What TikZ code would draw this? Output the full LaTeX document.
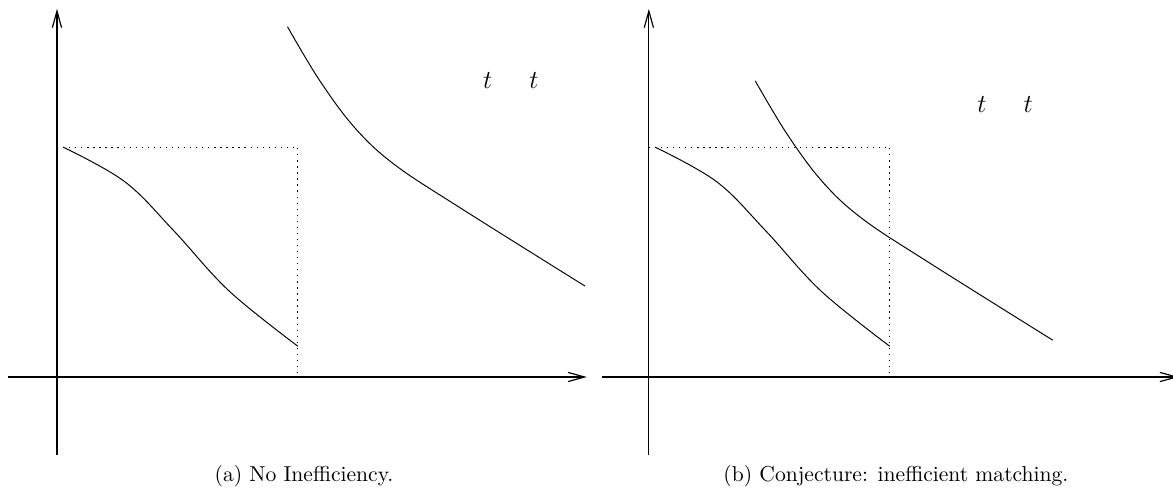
\documentclass[tikz,border=0pt]{standalone}
\usepackage{amsmath}
\usepackage{tikz}
\usetikzlibrary{arrows.meta,positioning,calc}

\begin{document}
\begin{tikzpicture}[
  axis/.style={-{Straight Barb[length=2.7mm,width=1.5mm]},line width=0.55pt},
  curve/.style={line width=0.45pt},
  guide/.style={line width=0.5pt,dash pattern=on 0.6pt off 2.2pt},
  lab/.style={font=\large,inner sep=0pt},
  captext/.style={font=\normalsize,inner sep=0pt},
]
\useasboundingbox (-0.927,-1.969) rectangle (18.158,6.134);
% panel (a)
\coordinate (xlA) at (-0.80,0);
\coordinate (xrA) at (8.62,0);
\coordinate (ybA) at (0,-1.27);
\coordinate (ytA) at (0,5.99);
\draw[axis] (xlA) -- (xrA);
\draw[axis] (ybA) -- (ytA);
\coordinate (topA) at (0,3.74);
\coordinate (cornA) at (3.92,3.74);
\coordinate (footA) at (3.92,0);
\draw[guide] (topA) -- (cornA) -- (footA);
% curves
\draw[curve] plot[smooth,tension=0.6] coordinates {(0.10,3.74) (1.10,3.18)
  (1.90,2.38) (2.80,1.40) (3.92,0.50)};
\draw[curve] plot[smooth,tension=0.6] coordinates {(3.75,5.70) (4.27,4.83)
  (4.85,4.05) (5.50,3.45) (6.58,2.74) (8.59,1.48)};
\node[lab] (t1A) at (7.01,4.83) {$t$};
\node[lab,right=7.5mm of t1A.center,anchor=center] (t2A) {$t$};
\node[captext] (capA) at (4.02,-1.61) {(a) No Inefficiency.};

% panel (b)
\begin{scope}[xshift=9.63cm]
\coordinate (xlB) at (-0.76,0);
\coordinate (xrB) at (8.62,0);
\coordinate (ybB) at (0,-1.27);
\coordinate (ytB) at (0,5.99);
\draw[axis] (xlB) -- (xrB);
\draw[axis] (ybB) -- (ytB);
\coordinate (topB) at (0,3.74);
\coordinate (cornB) at (3.92,3.74);
\coordinate (footB) at (3.92,0);
\draw[guide] (topB) -- (cornB) -- (footB);
% curves, upper one moved in
\draw[curve] plot[smooth,tension=0.6] coordinates {(0.10,3.74) (1.10,3.18)
  (1.90,2.38) (2.80,1.40) (3.92,0.50)};
\draw[curve,shift={(-2.02,-0.88)}] plot[smooth,tension=0.6] coordinates
  {(3.75,5.70) (4.27,4.83) (4.85,4.05) (5.50,3.45) (6.58,2.74) (8.59,1.48)};
\node[lab] (t1B) at (5.42,4.44) {$t$};
\node[lab,right=7.5mm of t1B.center,anchor=center] (t2B) {$t$};
\node[captext] (capB) at (4.02,-1.61) {(b) Conjecture: inefficient matching.};
\end{scope}
\end{tikzpicture}
\end{document}
